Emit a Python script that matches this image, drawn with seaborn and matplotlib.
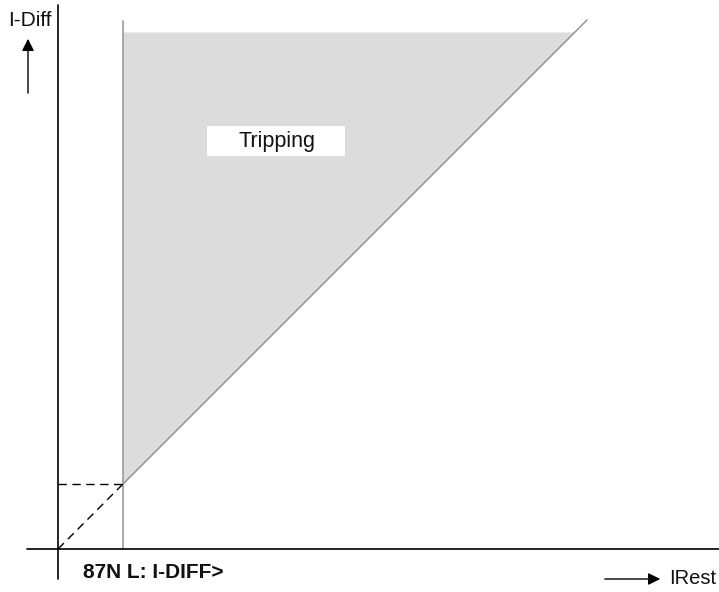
import matplotlib
matplotlib.use('Agg')
import matplotlib.pyplot as plt
import seaborn as sns
import pandas as pd
from matplotlib.patches import Rectangle

# ------------------------------------------------------------
# Datos (unidades relativas al origen del diagrama)
# ------------------------------------------------------------
i_diff_thr = 65            # umbral I-DIFF>
slope_end = 529            # fin de la recta característica
shade_top = 517            # borde superior de la zona de disparo
vline_top = 528            # extremo superior de la vertical del umbral
char_x = [i_diff_thr, slope_end]
char_y = [i_diff_thr, slope_end]
dash_x = [0, i_diff_thr]
dash_y = [0, i_diff_thr]
zone_x = [i_diff_thr, shade_top]
zone_lo = [i_diff_thr, shade_top]
zone_hi = [shade_top, shade_top]

label_zone = 'Tripping'
label_thr = '87N L: I-DIFF>'
label_y = 'I-Diff'
label_x = 'IRest'

# ------------------------------------------------------------
# Estilo
# ------------------------------------------------------------
sns.set_theme(style="white")
plt.rcParams['font.family'] = ['Liberation Sans', 'DejaVu Sans']

fig = plt.figure(figsize=(7.19, 5.92), dpi=100)
ax = fig.add_axes([0, 0, 1, 1])
ox, oy = 58, 43   # origen en píxeles (desde abajo-izquierda)
ax.set_xlim(-ox, 719 - ox)
ax.set_ylim(-oy, 592 - oy)
ax.axis('off')

# zona de disparo
ax.fill_between(zone_x, zone_lo, zone_hi, color='#dcdcdc', lw=0, zorder=1)

# recta característica
df = pd.DataFrame({'x': char_x, 'y': char_y})
sns.lineplot(data=df, x='x', y='y', color='#8c8c8c', lw=1.0, ax=ax, zorder=2)
ax.plot([i_diff_thr, i_diff_thr], [0, vline_top], color='#9a9a9a', lw=1.2, zorder=2)

# líneas discontinuas
ax.plot(dash_x, dash_y, color='black', lw=1.0, ls=(0, (6, 4)), zorder=3)
ax.plot([0, i_diff_thr], [i_diff_thr, i_diff_thr], color='black', lw=1.0, ls=(0, (6, 4)), zorder=3)

# ejes
ax.plot([-31, 661], [0, 0], color='black', lw=1.2, zorder=4)
ax.plot([0, 0], [-30, 544], color='black', lw=1.2, zorder=4)

# caja Tripping
ax.add_patch(Rectangle((207 - ox, 549 - 156), 138, 30, color='white', lw=0, zorder=5))
ax.text(277 - ox, 549 - 141, label_zone, ha='center', va='center',
        fontsize=15.5, color='#111111', zorder=6)

# etiquetas de ejes
ax.text(8 - ox, 549 - 21, label_y, ha='left', va='center', fontsize=15, color='#111111')
ax.annotate('', xy=(28 - ox, 549 - 36), xytext=(28 - ox, 549 - 96),
            arrowprops=dict(arrowstyle='-|>', color='black', lw=1.0, mutation_scale=18))
ax.text(83 - ox, 549 - 573, label_thr, ha='left', va='center', fontsize=15,
        fontweight='bold', color='#111111')
ax.annotate('', xy=(663 - ox, 549 - 579), xytext=(602 - ox, 549 - 579),
            arrowprops=dict(arrowstyle='-|>', color='black', lw=1.0, mutation_scale=18))
ax.text(669 - ox, 549 - 578, label_x, ha='left', va='center', fontsize=14.5, color='#111111')

plt.savefig('out.png', dpi=100)
plt.close()
